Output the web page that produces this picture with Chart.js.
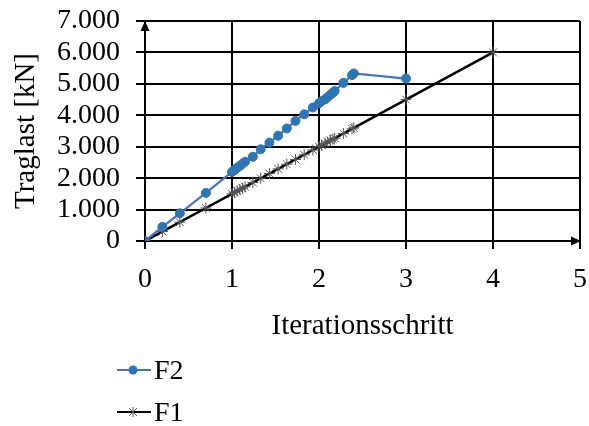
<!DOCTYPE html>
<html>
<head>
<meta charset="utf-8">
<script src="https://cdn.jsdelivr.net/npm/chart.js@4.4.0/dist/chart.umd.min.js"></script>
<style>
html, body { margin: 0; padding: 0; background: #fff; }
#wrap { position: relative; width: 589px; height: 426px; }
#legend { position: absolute; left: 117px; top: 349px; font: 28px "Liberation Serif", "Times New Roman", serif; color: #000; }
#legend .item { display: flex; align-items: center; height: 42px; }
#legend svg { margin-right: 3px; }
</style>
</head>
<body>
<div id="wrap">
  <canvas id="chart" width="589" height="426"></canvas>
  <div id="legend">
    <div class="item">
      <svg width="34" height="14"><line x1="0" y1="7" x2="34" y2="7" stroke="#4472C4" stroke-width="2"/><circle cx="16" cy="7" r="4.5" fill="#2E75B6"/></svg>F2
    </div>
    <div class="item">
      <svg width="34" height="14"><line x1="0" y1="7" x2="34" y2="7" stroke="#000" stroke-width="2"/><g stroke="#555" stroke-width="1"><line x1="12" y1="3" x2="20" y2="11"/><line x1="20" y1="3" x2="12" y2="11"/><line x1="16" y1="2" x2="16" y2="12"/></g></svg>F1
    </div>
  </div>
</div>
<script>
"use strict";

// F2 series (blue, circles)
var f2X = [0, 0.2, 0.4, 0.7, 1.0, 1.03, 1.06, 1.09, 1.12, 1.15, 1.24, 1.33, 1.43, 1.53, 1.63, 1.73, 1.83, 1.93, 2.0, 2.03, 2.07, 2.1, 2.13, 2.16, 2.18, 2.28, 2.38, 2.4, 3.0];
var f2Y = [0, 450, 880, 1530, 2200, 2260, 2330, 2390, 2460, 2520, 2680, 2920, 3130, 3350, 3580, 3820, 4030, 4250, 4380, 4450, 4510, 4580, 4650, 4720, 4770, 5030, 5280, 5330, 5170];

// F1 series (black, stars)
var f1X = [0, 0.2, 0.4, 0.7, 1.0, 1.03, 1.06, 1.09, 1.12, 1.15, 1.24, 1.33, 1.43, 1.53, 1.63, 1.73, 1.83, 1.93, 2.0, 2.03, 2.07, 2.1, 2.13, 2.16, 2.18, 2.28, 2.38, 2.4, 3.0, 4.0];
var f1Y = [0, 300, 600, 1050, 1500, 1545, 1590, 1635, 1680, 1725, 1860, 1995, 2145, 2295, 2445, 2595, 2745, 2895, 3000, 3045, 3105, 3150, 3195, 3240, 3270, 3420, 3570, 3600, 4500, 6000];

var xMin = 0, xMax = 5, xStep = 1;
var yMin = 0, yMax = 7000, yStep = 1000;

var xTitle = 'Iterationsschritt';
var yTitle = 'Traglast [kN]';

function toPoints(xs, ys) {
  return xs.map(function(x, i) { return { x: x, y: ys[i] }; });
}

function germanNumber(v) {
  return String(v).replace(/\B(?=(\d{3})+(?!\d))/g, '.');
}

var serif = '"Liberation Serif", "Times New Roman", serif';

// fixed axis boxes so the plot area lands where the original has it
function fixBox(size) {
  return function(s) {
    if (s.isHorizontal()) s.height = size; else s.width = size;
    s.paddingTop = 0; s.paddingBottom = 0; s.paddingLeft = 0; s.paddingRight = 0;
  };
}

// arrow heads at the ends of both axes
var axisArrows = {
  id: 'axisArrows',
  afterDraw: function(chart) {
    var a = chart.chartArea, c = chart.ctx;
    c.save();
    c.fillStyle = '#000';
    c.beginPath();
    c.moveTo(a.left, a.top);
    c.lineTo(a.left - 4.5, a.top + 10);
    c.lineTo(a.left + 4.5, a.top + 10);
    c.closePath();
    c.fill();
    c.beginPath();
    c.moveTo(a.right + 1, a.bottom);
    c.lineTo(a.right - 9, a.bottom - 4.5);
    c.lineTo(a.right - 9, a.bottom + 4.5);
    c.closePath();
    c.fill();
    c.restore();
  }
};

new Chart(document.getElementById('chart'), {
  type: 'scatter',
  data: {
    datasets: [
      {
        label: 'F2',
        data: toPoints(f2X, f2Y),
        showLine: true,
        borderColor: '#4472C4',
        borderWidth: 2.25,
        pointStyle: 'circle',
        pointRadius: 4.5,
        pointBackgroundColor: '#2E75B6',
        pointBorderColor: '#2E75B6',
        pointBorderWidth: 1
      },
      {
        label: 'F1',
        data: toPoints(f1X, f1Y),
        showLine: true,
        borderColor: '#000',
        borderWidth: 2.5,
        pointStyle: 'star',
        pointRadius: 5.5,
        pointBackgroundColor: '#555',
        pointBorderColor: '#555',
        pointBorderWidth: 1
      }
    ]
  },
  options: {
    responsive: false,
    animation: false,
    layout: { autoPadding: false, padding: { top: 21, right: 9, bottom: 81, left: 0 } },
    plugins: { legend: { display: false }, tooltip: { enabled: false } },
    scales: {
      x: {
        type: 'linear', min: xMin, max: xMax,
        ticks: { stepSize: xStep, autoSkip: false, color: '#000', font: { family: serif, size: 28 }, padding: 14, maxRotation: 0 },
        grid: { color: '#000', lineWidth: 2, tickLength: 8, tickColor: '#000' },
        border: { color: '#000', width: 2 },
        title: { display: true, text: xTitle, color: '#000', font: { family: serif, size: 29 }, padding: { top: 0, bottom: 1 } },
        afterFit: fixBox(104)
      },
      y: {
        type: 'linear', min: yMin, max: yMax,
        ticks: { stepSize: yStep, autoSkip: false, color: '#000', font: { family: serif, size: 28 }, padding: 16, callback: function(v) { return germanNumber(v); } },
        grid: { color: '#000', lineWidth: 2, tickLength: 9, tickColor: '#000' },
        border: { color: '#000', width: 2 },
        title: { display: true, text: yTitle, color: '#000', font: { family: serif, size: 29 }, padding: { top: 9, bottom: 0 } },
        afterFit: fixBox(145)
      }
    }
  },
  plugins: [axisArrows]
});
</script>
</body>
</html>
